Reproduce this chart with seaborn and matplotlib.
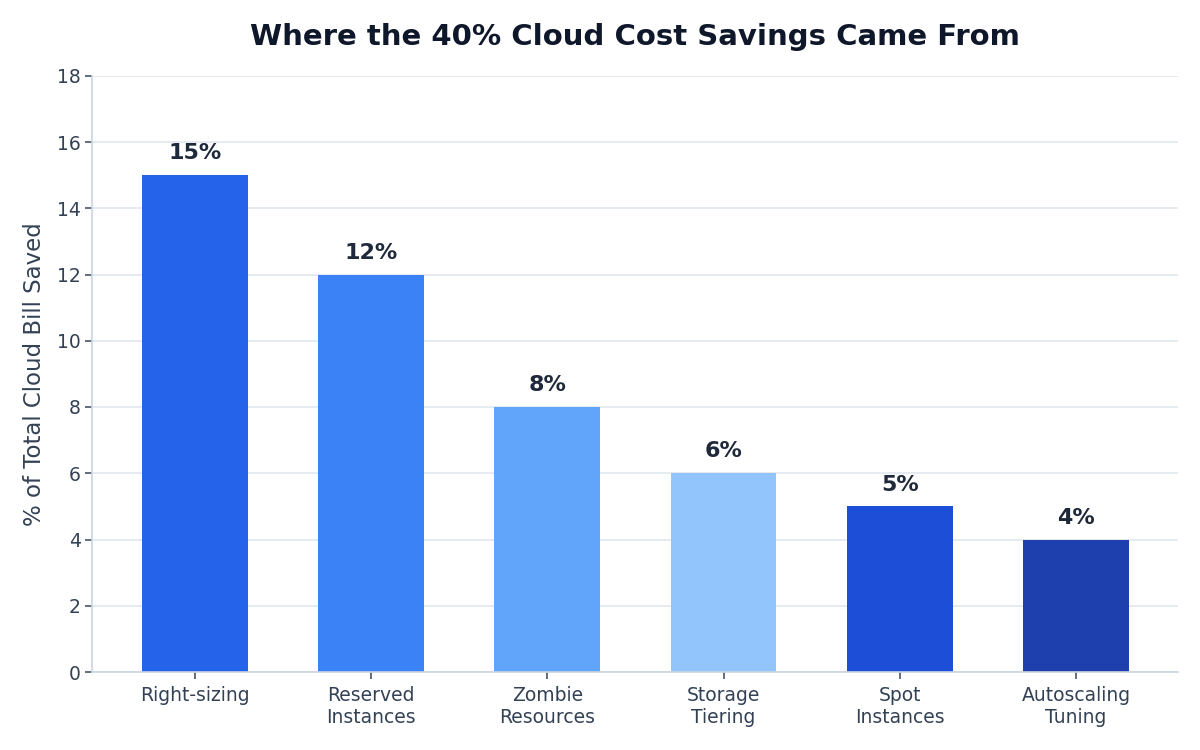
import matplotlib
matplotlib.use("Agg")
import matplotlib.pyplot as plt
import seaborn as sns
import pandas as pd

# Chart data
categories = ["Right-sizing", "Reserved\nInstances", "Zombie\nResources",
              "Storage\nTiering", "Spot\nInstances", "Autoscaling\nTuning"]
savings = [15, 12, 8, 6, 5, 4]
bar_colors = ["#2563eb", "#3b82f6", "#60a5fa", "#93c5fd", "#1d4ed8", "#1e40af"]

sns.set_theme(style="white")
plt.rcParams["font.family"] = ["DejaVu Sans"]

df = pd.DataFrame({"category": categories, "savings": savings})

fig, ax = plt.subplots(figsize=(12, 7.5), dpi=100)
sns.barplot(data=df, x="category", y="savings", hue="category",
            palette=bar_colors, legend=False, width=0.6, saturation=1,
            linewidth=0, ax=ax)

for patch, val in zip(ax.patches, savings):
    ax.annotate(f"{val}%", (patch.get_x() + patch.get_width() / 2, val),
                xytext=(0, 8.5), textcoords="offset points",
                ha="center", va="bottom", fontsize=16, fontweight="bold",
                color="#1e293b")

ax.set_ylim(0, 18)
ax.set_yticks(range(0, 19, 2))
ax.set_xlim(-0.58, 5.58)
ax.yaxis.grid(True, color="#e2e8f0", linewidth=1.2)
ax.set_axisbelow(True)

for side in ["top", "right"]:
    ax.spines[side].set_visible(False)
for side in ["left", "bottom"]:
    ax.spines[side].set_color("#cbd5e1")
    ax.spines[side].set_linewidth(1.2)

ax.tick_params(axis="both", colors="#475569", labelcolor="#334155",
               length=5, width=1.2, bottom=True, left=True, labelsize=13.5)
ax.tick_params(axis="x", pad=5)

ax.set_xlabel("")
ax.set_ylabel("% of Total Cloud Bill Saved", fontsize=16.5, color="#334155", labelpad=8)
ax.set_title("Where the 40% Cloud Cost Savings Came From", fontsize=21,
             fontweight="bold", color="#0f172a", pad=22)

fig.subplots_adjust(left=0.077, right=0.982, top=0.899, bottom=0.104)
fig.savefig("out.png", dpi=100, facecolor="white")
